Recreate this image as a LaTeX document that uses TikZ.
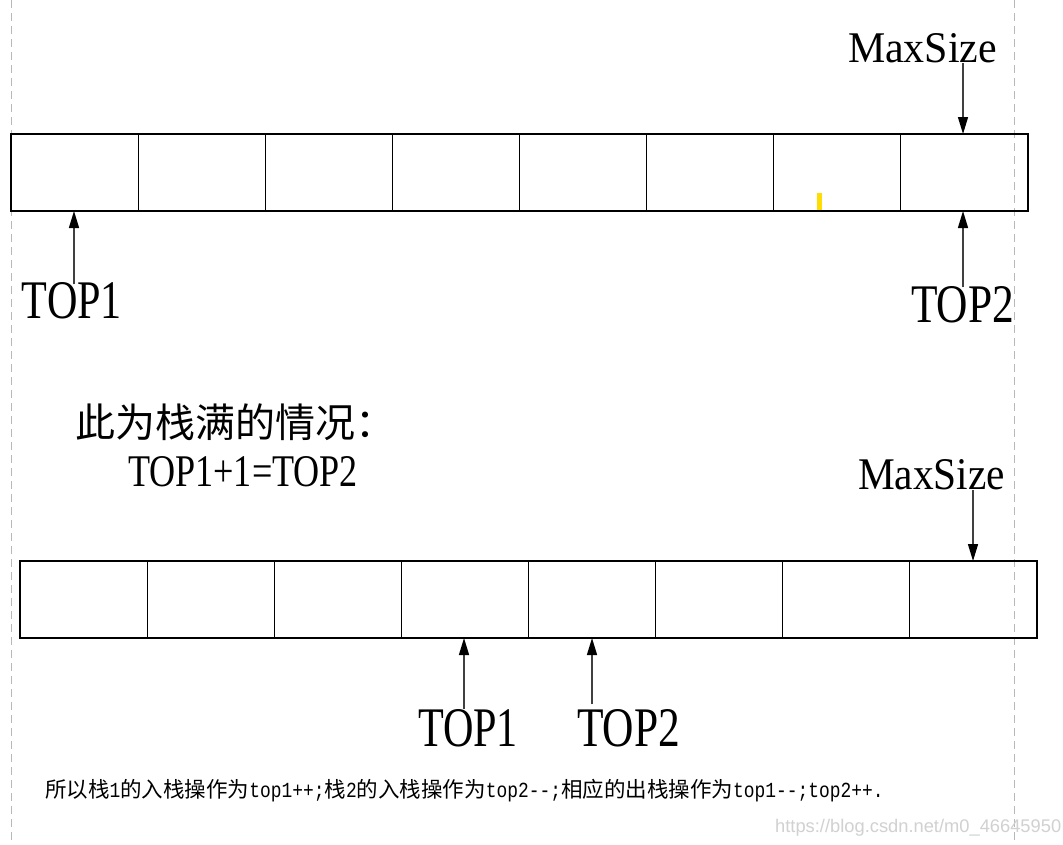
\documentclass[tikz,border=0pt]{standalone}
\usepackage{fontspec}
\usepackage{graphicx}
\setmainfont{Liberation Serif}
\newfontfamily\cjk{Noto Sans CJK SC}
\newfontfamily\lmono[FakeStretch=0.833,Ligatures=TeXOff]{Liberation Mono}
\newfontfamily\wmfont{Liberation Sans}
\usetikzlibrary{arrows.meta}
\newcommand\fitlbl[3]{\resizebox{#1pt}{#2pt}{#3}}
\definecolor{ymark}{RGB}{255,221,0}
\begin{document}
\begin{tikzpicture}[x=1pt,y=-1pt,
  cell/.style={draw=black,line width=1.2pt,minimum width=127.125pt,minimum height=77pt,inner sep=0pt,outer sep=0pt,anchor=north west},
  arr/.style={draw=black!75,line width=1.4pt,-{Triangle[length=17pt,width=10pt,color=black]}},
  lbl/.style={inner sep=0pt,outer sep=0pt,anchor=south west},
  guide/.style={draw=black!28,line width=0.8pt,dash pattern=on 8pt off 5pt}]
\useasboundingbox[fill=white] (0,0) rectangle (1063,844);
% guide lines
\draw[guide] (11,0) -- (11,844);
\draw[guide] (1014,0) -- (1014,844);
% arrays
\foreach \i in {0,...,7}{
  \node[cell] (a\i) at ({11+127.125*\i},134) {};
  \node[cell] (b\i) at ({20+127.125*\i},561) {};
}
\fill[ymark] (817,193) rectangle (822,210);
% labels
\node[lbl] (ms1) at (848,63) {\fitlbl{149}{29}{MaxSize}};
\node[lbl] (t1a) at (22,319) {\fitlbl{100}{36}{TOP1}};
\node[lbl] (t2a) at (911,323) {\fitlbl{103}{36}{TOP2}};
\node[inner sep=0pt,anchor=base west] (title) at (75,437) {\cjk\fontsize{40pt}{40pt}\selectfont 此为栈满的情况：};
\node[lbl] (eq) at (128,487) {\fitlbl{230}{30}{TOP1+1=TOP2}};
\node[lbl] (ms2) at (858,490) {\fitlbl{147}{30}{MaxSize}};
\node[lbl] (t1b) at (418,747) {\fitlbl{100}{37}{TOP1}};
\node[lbl] (t2b) at (577,747) {\fitlbl{103}{37}{TOP2}};
\node[inner sep=0pt,anchor=base west] (note) at (45,797) {\fontsize{21.5pt}{22pt}\selectfont\cjk 所以栈{\lmono 1}的入栈操作为{\lmono top1++;}栈{\lmono 2}的入栈操作为{\lmono top2-\kern0pt-;}相应的出栈操作为{\lmono top1-\kern0pt-;top2++.}};
\node[inner sep=0pt,anchor=base west,text=black!18] (wm) at (775,832) {\resizebox{286pt}{!}{\wmfont\fontsize{17pt}{17pt}\selectfont https://blog.csdn.net/m0\_46645950}};
% connectors
\coordinate (m1s) at ([xshift=40.5pt]ms1.south);
\draw[arr] (m1s) -- (m1s |- a7.north);
\coordinate (p1s) at ([xshift=2pt,yshift=-2pt]t1a.north);
\draw[arr] (p1s) -- (p1s |- a0.south);
\coordinate (p2s) at ([xshift=0.5pt,yshift=-1pt]t2a.north);
\draw[arr] (p2s) -- (p2s |- a7.south);
\coordinate (m2s) at ([xshift=41.5pt]ms2.south);
\draw[arr] (m2s) -- (m2s |- b7.north);
\coordinate (q1s) at ([xshift=-4pt]t1b.north);
\draw[arr] (q1s) -- (q1s |- b3.south);
\coordinate (q2s) at ([xshift=-36.5pt,yshift=5pt]t2b.north);
\draw[arr] (q2s) -- (q2s |- b4.south);
\end{tikzpicture}
\end{document}
